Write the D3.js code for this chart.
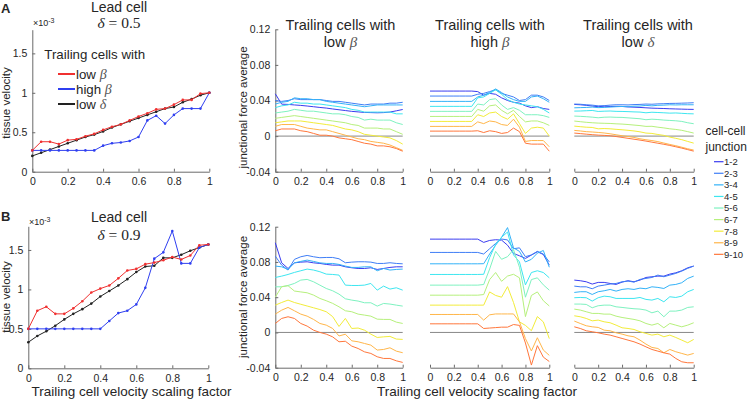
<!DOCTYPE html>
<html><head><meta charset="utf-8">
<script src="https://cdn.jsdelivr.net/npm/d3@7"></script>
<style>
body{margin:0;background:#fff}
svg{display:block}
text{font-family:"Liberation Sans",Arial,Helvetica,sans-serif;fill:#262626}
.math{font-family:"Liberation Serif","Times New Roman",serif;font-style:italic}
</style></head><body>
<svg id="c" width="747" height="403"></svg>
<script>
// ---------- data ----------
const xs = [0,0.05,0.1,0.15,0.2,0.25,0.3,0.35,0.4,0.45,0.5,0.55,0.6,0.65,0.7,0.75,0.8,0.85,0.9,0.95,1];
const xTicks = [0,0.2,0.4,0.6,0.8,1];
const xTickLabels = ["0","0.2","0.4","0.6","0.8","1"];
const velTicks = [0,0.5,1,1.5];
const velTickLabels = ["0","0.5","1","1.5"];
const forceTicks = [-0.04,0,0.04,0.08,0.12];
const forceTickLabels = ["-0.04","0","0.04","0.08","0.12"];
const velSeriesNames = ["low β","high β","low δ"];
const velColors = ["#f03030","#2f3ff0","#222222"];
const junctions = ["1-2","2-3","3-4","4-5","5-6","6-7","7-8","8-9","9-10"];
const junctionColors = ["#3a3cf0","#3f7ef6","#33b2f8","#3de6f0","#7ef2c0","#b6f07c","#f2ec3a","#ffb64a","#ff773c"];

// tissue velocity (x10^-3), lead cell delta = 0.5
const velA_lowBeta  = [0.27,0.38,0.38,0.35,0.40,0.41,0.45,0.48,0.53,0.57,0.60,0.65,0.70,0.74,0.79,0.80,0.85,0.91,0.91,0.99,1.00];
const velA_highBeta = [0.27,0.27,0.27,0.27,0.27,0.27,0.27,0.27,0.33,0.36,0.37,0.39,0.44,0.65,0.71,0.61,0.72,0.80,0.80,0.80,1.00];
const velA_lowDelta = [0.20,0.24,0.28,0.32,0.36,0.40,0.44,0.47,0.51,0.56,0.60,0.64,0.68,0.72,0.76,0.80,0.82,0.88,0.92,0.97,1.00];
// lead cell delta = 0.9
const velB_lowBeta  = [0.50,0.73,0.78,0.69,0.69,0.76,0.85,0.96,1.01,1.05,1.14,1.24,1.26,1.32,1.34,1.37,1.41,1.38,1.43,1.56,1.57];
const velB_highBeta = [0.50,0.50,0.50,0.50,0.50,0.50,0.50,0.50,0.50,0.60,0.70,0.73,0.81,1.02,1.39,1.47,1.74,1.33,1.33,1.53,1.57];
const velB_lowDelta = [0.33,0.41,0.47,0.54,0.62,0.69,0.75,0.82,0.91,0.98,1.05,1.13,1.22,1.29,1.30,1.40,1.40,1.44,1.49,1.53,1.57];

// junctional force average, row A (lead delta = 0.5)
const forceA_lowBeta = [
 [0.0475,0.0359,0.0356,0.0350,0.0345,0.0338,0.0330,0.0322,0.0315,0.0305,0.0296,0.0287,0.0278,0.0272,0.0266,0.0264,0.0262,0.0264,0.0270,0.0284,0.0299],
 [0.040,0.039,0.040,0.042,0.041,0.041,0.041,0.041,0.040,0.039,0.039,0.038,0.037,0.036,0.035,0.036,0.036,0.036,0.037,0.037,0.038],
 [0.036,0.038,0.039,0.043,0.042,0.042,0.041,0.041,0.039,0.038,0.037,0.036,0.035,0.034,0.033,0.034,0.035,0.035,0.035,0.035,0.035],
 [0.032,0.034,0.035,0.038,0.037,0.037,0.036,0.036,0.035,0.034,0.033,0.032,0.030,0.029,0.027,0.027,0.027,0.027,0.027,0.025,0.025],
 [0.026,0.027,0.028,0.030,0.029,0.028,0.028,0.027,0.026,0.025,0.025,0.024,0.022,0.021,0.018,0.019,0.018,0.018,0.018,0.015,0.013],
 [0.020,0.021,0.022,0.023,0.022,0.021,0.020,0.019,0.018,0.017,0.016,0.015,0.013,0.012,0.009,0.009,0.009,0.008,0.008,0.005,0.002],
 [0.015,0.016,0.017,0.017,0.017,0.016,0.015,0.014,0.013,0.012,0.010,0.008,0.007,0.005,0.002,0.001,0.000,-0.001,-0.002,-0.005,-0.009],
 [0.011,0.013,0.013,0.013,0.011,0.009,0.008,0.007,0.007,0.005,0.003,0.001,-0.001,-0.003,-0.004,-0.006,-0.007,-0.008,-0.010,-0.013,-0.016],
 [0.006,0.008,0.008,0.008,0.006,0.005,0.003,0.001,0.001,0.000,-0.002,-0.003,-0.004,-0.006,-0.008,-0.009,-0.011,-0.011,-0.012,-0.014,-0.017]
];
const forceA_highBeta = [
 [0.0506,0.0506,0.0506,0.0506,0.0506,0.0506,0.0506,0.0506,0.050,0.046,0.048,0.047,0.043,0.040,0.038,0.037,0.034,0.032,0.033,0.031,0.030],
 [0.045,0.045,0.045,0.045,0.045,0.045,0.045,0.045,0.047,0.048,0.050,0.052,0.048,0.046,0.044,0.040,0.041,0.046,0.046,0.044,0.040],
 [0.039,0.039,0.039,0.039,0.039,0.039,0.039,0.039,0.044,0.046,0.049,0.053,0.049,0.044,0.041,0.039,0.039,0.044,0.045,0.042,0.038],
 [0.0334,0.0334,0.0334,0.0334,0.0334,0.0334,0.0334,0.0334,0.043,0.044,0.048,0.052,0.047,0.041,0.038,0.036,0.035,0.034,0.033,0.030,0.026],
 [0.0278,0.0278,0.0278,0.0278,0.0278,0.0278,0.0278,0.0278,0.036,0.035,0.041,0.042,0.035,0.030,0.032,0.029,0.024,0.024,0.024,0.023,0.021],
 [0.0221,0.0221,0.0221,0.0221,0.0221,0.0221,0.0221,0.0221,0.030,0.028,0.034,0.035,0.029,0.025,0.029,0.022,0.016,0.017,0.017,0.015,0.012],
 [0.0165,0.0165,0.0165,0.0165,0.0165,0.0165,0.0165,0.0165,0.024,0.022,0.026,0.027,0.022,0.019,0.025,0.014,0.003,0.009,0.010,0.009,0.000],
 [0.0109,0.0109,0.0109,0.0109,0.0109,0.0109,0.0109,0.0109,0.016,0.014,0.017,0.016,0.013,0.012,0.019,0.010,-0.006,-0.005,-0.005,-0.005,-0.012],
 [0.0056,0.0056,0.0056,0.0056,0.0056,0.0056,0.0056,0.0056,0.006,0.004,0.006,0.005,0.003,0.004,0.009,0.005,-0.008,-0.009,-0.009,-0.009,-0.017]
];
const forceA_lowDelta = [
 [0.0356,0.0352,0.0346,0.0338,0.0330,0.0336,0.0332,0.0334,0.0333,0.0328,0.0325,0.0322,0.0318,0.0314,0.0312,0.0310,0.0307,0.0305,0.0303,0.0301,0.0300],
 [0.0360,0.0358,0.0352,0.0348,0.0340,0.0342,0.0348,0.0352,0.0352,0.0350,0.0354,0.0356,0.0360,0.0358,0.0362,0.0364,0.0367,0.0368,0.0370,0.0372,0.0375],
 [0.0318,0.0320,0.0322,0.0326,0.0320,0.0322,0.0326,0.0330,0.0333,0.0330,0.0336,0.0338,0.0345,0.0340,0.0346,0.0348,0.0352,0.0350,0.0352,0.0352,0.0352],
 [0.0281,0.0282,0.0285,0.0288,0.0277,0.0280,0.0282,0.0278,0.0277,0.0275,0.0272,0.0270,0.0262,0.0268,0.0265,0.0262,0.0258,0.0260,0.0256,0.0252,0.0250],
 [0.0225,0.0222,0.0218,0.0213,0.0206,0.0212,0.0214,0.0211,0.0210,0.0205,0.0200,0.0195,0.0184,0.0190,0.0186,0.0180,0.0176,0.0172,0.0165,0.0150,0.0139],
 [0.0169,0.0162,0.0155,0.0150,0.0146,0.0144,0.0142,0.0138,0.0135,0.0130,0.0124,0.0118,0.0109,0.0110,0.0100,0.0092,0.0082,0.0075,0.0065,0.0050,0.0034],
 [0.0112,0.0106,0.0100,0.0097,0.0082,0.0085,0.0082,0.0076,0.0071,0.0065,0.0058,0.0048,0.0034,0.0030,0.0018,0.0008,-0.0011,-0.0025,-0.0040,-0.0060,-0.0079],
 [0.0064,0.0058,0.0050,0.0046,0.0041,0.0035,0.0026,0.0015,0.0004,-0.0005,-0.0015,-0.0030,-0.0041,-0.0050,-0.0062,-0.0078,-0.0094,-0.0108,-0.0125,-0.0142,-0.0157],
 [0.0034,0.0028,0.0022,0.0016,0.0011,0.0008,0.0004,-0.0005,-0.0015,-0.0025,-0.0035,-0.0045,-0.0056,-0.0068,-0.0080,-0.0092,-0.0105,-0.0120,-0.0135,-0.0152,-0.0169]
];
// row B (lead delta = 0.9)
const forceB_lowBeta = [
 [0.1018,0.0790,0.0726,0.0790,0.0798,0.0802,0.0790,0.0783,0.0772,0.0764,0.0764,0.0745,0.0734,0.0726,0.0726,0.0734,0.0715,0.0726,0.0738,0.0745,0.0745],
 [0.0866,0.0764,0.0708,0.0829,0.0859,0.0874,0.0859,0.0848,0.0851,0.0851,0.0836,0.0791,0.0798,0.0802,0.0802,0.0798,0.0783,0.0783,0.0791,0.0783,0.0779],
 [0.0753,0.0745,0.0715,0.0790,0.0806,0.0821,0.0806,0.0790,0.0783,0.0783,0.0772,0.0753,0.0738,0.0738,0.0745,0.0745,0.0700,0.0726,0.0708,0.0715,0.0719],
 [0.0624,0.0639,0.0658,0.0681,0.0700,0.0719,0.0708,0.0689,0.0662,0.0658,0.0651,0.0537,0.0533,0.0533,0.0537,0.0556,0.0480,0.0526,0.0492,0.0507,0.0480],
 [0.0518,0.0518,0.0533,0.0556,0.0594,0.0602,0.0575,0.0537,0.0499,0.0473,0.0435,0.0382,0.0367,0.0356,0.0337,0.0337,0.0299,0.0329,0.0322,0.0310,0.0299],
 [0.0400,0.0520,0.0530,0.0470,0.0460,0.0450,0.0424,0.0386,0.0360,0.0330,0.0291,0.0246,0.0235,0.0208,0.0197,0.0185,0.0151,0.0148,0.0148,0.0117,0.0102],
 [0.0310,0.0340,0.0367,0.0340,0.0320,0.0300,0.0280,0.0260,0.0235,0.0180,0.0068,0.0159,0.0045,0.0050,0.0026,-0.0019,-0.0057,-0.0050,-0.0045,-0.0075,-0.0079],
 [0.0208,0.0253,0.0284,0.0246,0.0208,0.0185,0.0148,0.0102,0.0083,0.0045,-0.0040,-0.0020,-0.0095,-0.0106,-0.0125,-0.0144,-0.0200,-0.0193,-0.0174,-0.0212,-0.0230],
 [0.0102,0.0159,0.0178,0.0159,0.0102,0.0072,0.0026,0.0000,-0.0019,-0.0050,-0.0106,-0.0100,-0.0155,-0.0182,-0.0220,-0.0238,-0.0276,-0.0295,-0.0295,-0.0322,-0.0340]
];
const forceB_highBeta = [
 [0.1059,0.1059,0.1059,0.1059,0.1059,0.1059,0.1059,0.1059,0.1059,0.1022,0.1044,0.1052,0.1048,0.0990,0.0896,0.0870,0.0840,0.0878,0.0916,0.0885,0.0764],
 [0.0908,0.0908,0.0908,0.0908,0.0908,0.0908,0.0908,0.0908,0.0908,0.0890,0.0950,0.1010,0.1060,0.1050,0.0950,0.0960,0.0860,0.0880,0.0920,0.0890,0.0800],
 [0.0779,0.0779,0.0779,0.0779,0.0779,0.0779,0.0779,0.0779,0.0779,0.0780,0.0890,0.0990,0.1080,0.1190,0.0960,0.0920,0.0800,0.0830,0.0900,0.0930,0.0740],
 [0.0658,0.0658,0.0658,0.0658,0.0658,0.0658,0.0658,0.0658,0.0658,0.0660,0.0850,0.1000,0.1080,0.1140,0.0880,0.0800,0.0540,0.0680,0.0700,0.0680,0.0620],
 [0.0537,0.0537,0.0537,0.0537,0.0537,0.0537,0.0537,0.0537,0.0537,0.0544,0.0720,0.0920,0.0830,0.0860,0.0940,0.0740,0.0400,0.0600,0.0620,0.0540,0.0480],
 [0.0423,0.0423,0.0423,0.0423,0.0423,0.0423,0.0423,0.0423,0.0423,0.0430,0.0600,0.0680,0.0580,0.0640,0.0660,0.0620,0.0180,0.0420,0.0460,0.0360,0.0300],
 [0.0310,0.0310,0.0310,0.0310,0.0310,0.0310,0.0310,0.0310,0.0310,0.0310,0.0460,0.0420,0.0400,0.0520,0.0340,0.0120,0.0080,0.0020,0.0180,0.0120,-0.0070],
 [0.0204,0.0204,0.0204,0.0204,0.0204,0.0204,0.0204,0.0204,0.0204,0.0140,0.0200,0.0210,0.0210,0.0210,0.0210,0.0120,-0.0070,-0.0210,-0.0060,-0.0200,-0.0260],
 [0.0098,0.0098,0.0098,0.0098,0.0098,0.0098,0.0098,0.0098,0.0098,0.0045,0.0050,0.0055,0.0060,0.0060,0.0090,0.0080,-0.0120,-0.0370,-0.0150,-0.0280,-0.0330]
];
const forceB_lowDelta = [
 [0.0594,0.0587,0.0575,0.0549,0.0568,0.0568,0.0556,0.0545,0.0571,0.0587,0.0575,0.0594,0.0624,0.0632,0.0639,0.0639,0.0662,0.0677,0.0700,0.0734,0.0753],
 [0.0526,0.0518,0.0518,0.0496,0.0526,0.0537,0.0549,0.0556,0.0575,0.0583,0.0571,0.0602,0.0613,0.0624,0.0651,0.0632,0.0651,0.0670,0.0696,0.0727,0.0753],
 [0.0454,0.0462,0.0462,0.0431,0.0462,0.0473,0.0488,0.0469,0.0488,0.0496,0.0488,0.0503,0.0496,0.0518,0.0511,0.0499,0.0537,0.0545,0.0564,0.0613,0.0639],
 [0.0394,0.0397,0.0394,0.0356,0.0394,0.0412,0.0405,0.0386,0.0386,0.0386,0.0386,0.0397,0.0375,0.0367,0.0386,0.0348,0.0405,0.0397,0.0412,0.0462,0.0488],
 [0.0322,0.0322,0.0318,0.0280,0.0303,0.0310,0.0310,0.0291,0.0284,0.0276,0.0269,0.0265,0.0254,0.0223,0.0242,0.0178,0.0242,0.0242,0.0254,0.0284,0.0291],
 [0.0265,0.0254,0.0235,0.0216,0.0216,0.0208,0.0208,0.0185,0.0170,0.0159,0.0148,0.0132,0.0102,0.0083,0.0102,0.0053,0.0102,0.0083,0.0064,0.0083,0.0110],
 [0.0189,0.0178,0.0159,0.0132,0.0140,0.0121,0.0110,0.0083,0.0053,0.0045,0.0034,0.0008,-0.0011,-0.0030,-0.0019,-0.0049,-0.0030,-0.0057,-0.0087,-0.0117,-0.0079],
 [0.0129,0.0102,0.0076,0.0064,0.0057,0.0026,0.0019,-0.0004,-0.0019,-0.0038,-0.0049,-0.0087,-0.0132,-0.0170,-0.0182,-0.0231,-0.0193,-0.0219,-0.0238,-0.0257,-0.0238],
 [0.0064,0.0045,0.0019,0.0008,-0.0004,-0.0019,-0.0030,-0.0049,-0.0068,-0.0087,-0.0106,-0.0132,-0.0163,-0.0193,-0.0212,-0.0231,-0.0246,-0.0295,-0.0333,-0.0344,-0.0344]
];

// ---------- drawing ----------
const svg = d3.select("#c");
const AX = "#6a6a6a";

function styleAxis(g){
  g.selectAll("path.domain").attr("stroke",AX).attr("stroke-width",1);
  g.selectAll(".tick line").attr("stroke",AX);
  g.selectAll(".tick text").attr("fill","#262626").style("font-size","10.5px").style("font-family",'"Liberation Sans",Arial,sans-serif');
}

function xAxis(x, yPix){
  const g = svg.append("g").attr("transform",`translate(0,${yPix})`)
    .call(d3.axisBottom(x).tickValues(xTicks).tickFormat((d,i)=>xTickLabels[i]).tickSizeInner(-3).tickSizeOuter(0).tickPadding(6));
  styleAxis(g);
}
function yAxis(y, xPix, ticks, labels){
  const g = svg.append("g").attr("transform",`translate(${xPix},0)`)
    .call(d3.axisLeft(y).tickValues(ticks).tickFormat((d,i)=>labels[i]).tickSizeInner(-3).tickSizeOuter(0).tickPadding(5));
  styleAxis(g);
}

function velPanel(x0,x1,yb,yt,series){
  const x = d3.scaleLinear().domain([0,1]).range([x0,x1]);
  const y = d3.scaleLinear().domain([0,1.8]).range([yb,yt]);
  xAxis(x,yb); yAxis(y,x0,velTicks,velTickLabels);
  const line = d3.line().x((d,i)=>x(xs[i])).y(d=>y(d));
  [2,1,0].forEach(k=>{
    svg.append("path").datum(series[k]).attr("d",line).attr("fill","none")
      .attr("stroke",velColors[k]).attr("stroke-width",1);
    svg.append("g").selectAll("circle").data(series[k]).join("circle")
      .attr("cx",(d,i)=>x(xs[i])).attr("cy",d=>y(d)).attr("r",1.3).attr("fill",velColors[k]);
  });
}

function forcePanel(x0,x1,yb,yt,data,withY){
  const x = d3.scaleLinear().domain([0,1]).range([x0,x1]);
  const y = d3.scaleLinear().domain([-0.04,0.12]).range([yb,yt]);
  xAxis(x,yb);
  if(withY) yAxis(y,x0,forceTicks,forceTickLabels);
  svg.append("line").attr("x1",x(0)).attr("x2",x(1)).attr("y1",y(0)).attr("y2",y(0))
    .attr("stroke","#7a7a7a").attr("stroke-width",0.9);
  const line = d3.line().x((d,i)=>x(xs[i])).y(d=>y(d));
  data.forEach((s,k)=>{
    svg.append("path").datum(s).attr("d",line).attr("fill","none")
      .attr("stroke",junctionColors[k]).attr("stroke-width",1).attr("stroke-linejoin","round");
  });
}

velPanel(32.3,209.3,171.7,29.7,[velA_lowBeta,velA_highBeta,velA_lowDelta]);
velPanel(28.3,208.3,368.3,226.3,[velB_lowBeta,velB_highBeta,velB_lowDelta]);
forcePanel(275.3,402.7,171.7,29.3,forceA_lowBeta,true);
forcePanel(430,549.3,171.7,29.3,forceA_highBeta,false);
forcePanel(574.3,693.7,171.7,29.3,forceA_lowDelta,false);
forcePanel(275.3,402.7,367.7,226.7,forceB_lowBeta,true);
forcePanel(430,549.3,367.7,226.7,forceB_highBeta,false);
forcePanel(574.3,693.7,367.7,226.7,forceB_lowDelta,false);

// ---------- texts ----------
function txt(x,y,s,size,anchor,weight){
  return svg.append("text").attr("x",x).attr("y",y).attr("text-anchor",anchor||"start")
    .style("font-size",size+"px").style("font-weight",weight||"normal").text(s);
}
txt(1,13,"A",13,"start","bold");
txt(1,221,"B",13,"start","bold");
txt(119,12,"Lead cell",14,"middle");
txt(119,222,"Lead cell",14,"middle");
function deltaEq(cx,y,val){
  const t = svg.append("text").attr("x",cx).attr("y",y).attr("text-anchor","middle")
    .style("font-size","15.5px").style("font-family",'"Liberation Serif","Times New Roman",serif');
  t.append("tspan").style("font-style","italic").text("δ");
  t.append("tspan").text(" = "+val);
}
deltaEq(119,28.2,"0.5");
deltaEq(119,240,"0.9");

function expo(x,y){
  const t = svg.append("text").attr("x",x).attr("y",y).style("font-size","9px").attr("fill","#444");
  t.append("tspan").text("×10");
  t.append("tspan").attr("dy",-3).style("font-size","7px").text("-3");
}
expo(33,26);
expo(29,224.5);

function ylab(x,y,s){
  svg.append("text").attr("transform",`translate(${x},${y}) rotate(-90)`).attr("text-anchor","middle")
    .style("font-size","11.5px").text(s);
}
ylab(10,103,"tissue velocity");
ylab(10,297,"tissue velocity");
ylab(246.5,107.5,"junctional force average");
ylab(246.5,297,"junctional force average");

txt(131.5,396,"Trailing cell velocity scaling factor",13.5,"middle");
txt(477,396,"Trailing cell velocity scaling factor",13.5,"middle");

function title(cx,sym,word){
  txt(cx,29.7,"Trailing cells with",14.5,"middle");
  const t = svg.append("text").attr("x",cx).attr("y",47.2).attr("text-anchor","middle").style("font-size","14.5px");
  t.append("tspan").text(word+" ");
  t.append("tspan").attr("class","math").style("font-size","15px").attr("fill","#555").text(sym);
}
title(340.5,"β","low");
title(490,"β","high");
title(638,"δ","low");

// left legend
txt(44.3,59,"Trailing cells with",13.3,"start");
const legY = [74,89,104];
velSeriesNames.forEach((nm,k)=>{
  svg.append("line").attr("x1",58).attr("x2",75).attr("y1",legY[k]).attr("y2",legY[k])
    .attr("stroke",velColors[k]).attr("stroke-width",2);
  const parts = nm.split(" ");
  const t = svg.append("text").attr("x",76).attr("y",legY[k]+4.8).style("font-size","13.3px");
  t.append("tspan").text(parts[0]+" ");
  t.append("tspan").attr("class","math").attr("fill","#555").style("font-size","14px").text(parts[1]);
});

// right legend
txt(705.5,135,"cell-cell",12,"start");
txt(705.5,150.5,"junction",12,"start");
junctions.forEach((j,k)=>{
  const yy = 161.7 + k*11.58;
  svg.append("line").attr("x1",714).attr("x2",723.5).attr("y1",yy).attr("y2",yy)
    .attr("stroke",junctionColors[k]).attr("stroke-width",1.2);
  txt(724,yy+3.4,j,9.5,"start");
});
</script></body></html>
